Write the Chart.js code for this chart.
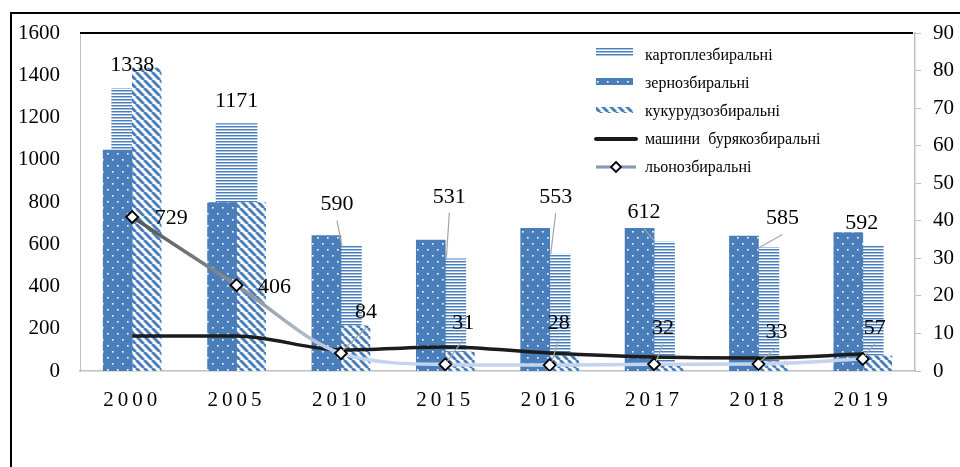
<!DOCTYPE html>
<html>
<head>
<meta charset="utf-8">
<script src="https://cdn.jsdelivr.net/npm/chart.js@4.4.1/dist/chart.umd.min.js"></script>
<style>
  html, body { margin: 0; padding: 0; background: #fff; }
  #wrap { position: relative; width: 960px; height: 467px; }
  #plot-top { position: absolute; left: 80px; top: 32px; width: 833px; height: 2px; background: #000; }
</style>
</head>
<body>
<div id="wrap"><canvas id="chart" width="960" height="467"></canvas><div id="plot-top"></div></div>
<script>
(function () {
  'use strict';

  // data
  const years = ['2000', '2005', '2010', '2015', '2016', '2017', '2018', '2019'];
  const potato = [1338, 1171, 590, 531, 553, 612, 585, 592];
  const grain = [1046, 797, 641, 620, 675, 675, 639, 655];
  const corn = [1434, 797, 214, 90, 71, 28, 43, 71];
  const beet = [166, 166, 100, 114, 85, 66, 62, 80];
  const flax = [729, 406, 84, 31, 28, 32, 33, 57];
  const leftMax = 1600;
  const leftStep = 200;
  const rightMax = 90;
  const rightStep = 10;

  const names = ['картоплезбиральні', 'зернозбиральні', 'кукурудзозбиральні', 'машини  бурякозбиральні', 'льонозбиральні'];

  // label placement (offsets from the mark, px)
  const potatoLabelOffsets = [[0, -23], [0, -22], [-4, -42], [4, -62], [6, -57], [-10, -29], [24, -29], [-1, -23]];
  const potatoLeaders = [false, false, true, true, true, true, true, false];
  const flaxLabelOffsets = [[39, 1], [38, 2], [25, -41], [18, -41], [9, -42], [9, -36], [18, -32], [12, -31]];
  const flaxLeaders = [false, false, true, true, true, true, true, true];

  const SERIF = '"Liberation Serif", serif';
  const BLUE = '#4a7ebb';
  const PLOT_W = 835;      // 960 - 80 (left axis) - 45 (right axis)
  const BAR_W = 29;        // grain / corn bar width
  const BACK_W = 41;       // potato bar width (drawn behind)
  const shift = (BAR_W / 2) / (PLOT_W / years.length); // half bar, in category units

  function makePattern(w, h, draw) {
    const c = document.createElement('canvas');
    c.width = w;
    c.height = h;
    const g = c.getContext('2d');
    draw(g, w, h);
    return g.createPattern(c, 'repeat');
  }

  const dotted = makePattern(10, 12, function (g, w, h) {
    g.fillStyle = BLUE;
    g.fillRect(0, 0, w, h);
    g.fillStyle = '#ffffff';
    g.fillRect(2, 3, 1.6, 1.6);
    g.fillRect(7, 9, 1.6, 1.6);
  });

  const hlines = makePattern(4, 3, function (g, w) {
    g.fillStyle = '#ffffff';
    g.fillRect(0, 0, w, 3);
    g.fillStyle = BLUE;
    g.fillRect(0, 0, w, 1);
    g.fillStyle = '#a9c1e3';
    g.fillRect(0, 1, w, 1);
  });

  const diag = makePattern(8, 8, function (g) {
    g.fillStyle = '#ffffff';
    g.fillRect(0, 0, 8, 8);
    g.strokeStyle = BLUE;
    g.lineWidth = 3;
    [-8, 0, 8].forEach(function (x) {
      g.beginPath();
      g.moveTo(x, 0);
      g.lineTo(x + 8, 8);
      g.stroke();
    });
  });

  function asPoints(arr) {
    return arr.map(function (v, i) { return { x: i, y: v }; });
  }

  function flaxGradient(ctx) {
    const chart = ctx.chart;
    if (!chart.chartArea) return '#808080';
    const xs = chart.scales.x;
    const x0 = xs.getPixelForValue(0);
    const x2 = xs.getPixelForValue(2);
    const g = chart.ctx.createLinearGradient(x0, 0, x2, 0);
    g.addColorStop(0, '#555555');
    g.addColorStop(0.5, '#8a8e95');
    g.addColorStop(1, '#c3d4ec');
    return g;
  }

  const framePlugin = {
    id: 'frame',
    beforeDraw: function (chart) {
      const ctx = chart.ctx;
      ctx.save();
      ctx.fillStyle = '#ffffff';
      ctx.fillRect(0, 0, chart.width, chart.height);
      ctx.restore();
    },
    afterDraw: function (chart) {
      const ctx = chart.ctx;
      const a = chart.chartArea;
      ctx.save();
      ctx.fillStyle = '#000000';
      ctx.fillRect(10, 12, 2, chart.height - 12);
      ctx.fillRect(10, 12, chart.width - 10, 2);

      // keep the html top line on the plot edge
      const topLine = document.getElementById('plot-top');
      topLine.style.left = a.left + 'px';
      topLine.style.top = (a.top - 1) + 'px';
      topLine.style.width = (a.right - a.left - 2) + 'px';

      // x labels with letter spacing
      const xs = chart.scales.x;
      ctx.font = '21px ' + SERIF;
      ctx.textAlign = 'center';
      ctx.textBaseline = 'middle';
      ctx.letterSpacing = '4px';
      years.forEach(function (y, i) {
        ctx.fillText(y, xs.getPixelForValue(i), a.bottom + 29);
      });
      ctx.restore();
    },
  };

  function drawLeader(ctx, x1, y1, x2, y2) {
    ctx.beginPath();
    ctx.moveTo(x1, y1);
    ctx.lineTo(x2, y2);
    ctx.stroke();
  }

  const labelPlugin = {
    id: 'valueLabels',
    afterDatasetsDraw: function (chart) {
      const ctx = chart.ctx;
      ctx.save();
      ctx.font = '22px ' + SERIF;
      ctx.fillStyle = '#000';
      ctx.textAlign = 'center';
      ctx.textBaseline = 'middle';
      ctx.strokeStyle = '#a6a6a6';
      ctx.lineWidth = 1.2;

      const pm = chart.getDatasetMeta(0).data;
      pm.forEach(function (el, i) {
        const lx = el.x + potatoLabelOffsets[i][0];
        const ly = el.y + potatoLabelOffsets[i][1];
        if (potatoLeaders[i]) drawLeader(ctx, lx, ly + 16, el.x + 1, el.y);
        ctx.fillText(String(potato[i]), lx, ly);
      });

      const fm = chart.getDatasetMeta(4).data;
      fm.forEach(function (el, i) {
        const lx = el.x + flaxLabelOffsets[i][0];
        const ly = el.y + flaxLabelOffsets[i][1];
        if (flaxLeaders[i]) drawLeader(ctx, lx, ly + 16, el.x + 2, el.y - 3);
        ctx.fillText(String(flax[i]), lx, ly);
      });

      // legend
      const lx0 = 596;
      const lw = 37;
      const tx = 645;
      ctx.font = '16px ' + SERIF;
      ctx.textAlign = 'left';
      names.forEach(function (name, i) {
        const ty = 56 + i * 28;
        if (i === 0) {
          ctx.fillStyle = '#ffffff';
          ctx.fillRect(lx0, ty - 8, lw, 9);
          ctx.fillStyle = BLUE;
          for (let k = 0; k < 3; k++) ctx.fillRect(lx0, ty - 8 + k * 3, lw, 1.2);
          ctx.fillStyle = '#a9c1e3';
          for (let k = 0; k < 3; k++) ctx.fillRect(lx0, ty - 7 + k * 3, lw, 1);
        } else if (i === 1) {
          ctx.fillStyle = dotted;
          ctx.fillRect(lx0, ty - 6, lw, 7);
        } else if (i === 2) {
          ctx.fillStyle = diag;
          ctx.fillRect(lx0, ty - 5, lw, 6);
        } else if (i === 3) {
          ctx.strokeStyle = '#1a1a1a';
          ctx.lineWidth = 4;
          ctx.lineCap = 'round';
          drawLeader(ctx, lx0, ty - 1, lx0 + 40, ty - 1);
        } else {
          ctx.lineCap = 'butt';
          ctx.strokeStyle = '#9fb6d8';
          ctx.lineWidth = 3.5;
          drawLeader(ctx, lx0, ty - 1, lx0 + 40, ty - 1);
          ctx.strokeStyle = '#6d7f99';
          ctx.lineWidth = 1;
          drawLeader(ctx, lx0, ty - 1, lx0 + 40, ty - 1);
          const cx = lx0 + 20;
          const cy = ty - 1;
          ctx.beginPath();
          ctx.moveTo(cx, cy - 5);
          ctx.lineTo(cx + 5, cy);
          ctx.lineTo(cx, cy + 5);
          ctx.lineTo(cx - 5, cy);
          ctx.closePath();
          ctx.fillStyle = '#fff';
          ctx.fill();
          ctx.strokeStyle = '#000';
          ctx.lineWidth = 1.8;
          ctx.stroke();
        }
        ctx.fillStyle = '#000';
        ctx.fillText(name, tx, ty);
      });
      ctx.restore();
    },
  };

  // invisible linear axis, laid out like the category axis, shifted by a fraction of a category
  function shiftedAxis(sh) {
    return {
      type: 'linear',
      position: 'bottom',
      display: true,
      offset: false,
      min: -0.5 + sh,
      max: years.length - 0.5 + sh,
      grid: { display: false, drawTicks: false, offset: false },
      border: { display: false },
      ticks: { display: false, stepSize: 1 },
      afterFit: function (s) { s.height = 0; },
    };
  }

  function build() {
    const ctx = document.getElementById('chart').getContext('2d');
    new Chart(ctx, {
      data: {
        labels: years,
        datasets: [
          {
            type: 'bar',
            label: names[0],
            data: potato,
            xAxisID: 'x',
            yAxisID: 'y',
            backgroundColor: hlines,
            borderWidth: 0,
            grouped: false,
            categoryPercentage: 1,
            barPercentage: 1,
            maxBarThickness: BACK_W,
            order: 4,
          },
          {
            type: 'bar',
            label: names[1],
            data: asPoints(grain),
            xAxisID: 'xg',
            yAxisID: 'y',
            backgroundColor: dotted,
            borderWidth: 0,
            grouped: false,
            categoryPercentage: 1,
            barPercentage: 1,
            maxBarThickness: BAR_W,
            order: 2,
          },
          {
            type: 'bar',
            label: names[2],
            data: asPoints(corn),
            xAxisID: 'xc',
            yAxisID: 'y',
            backgroundColor: diag,
            borderWidth: 0,
            grouped: false,
            categoryPercentage: 1,
            barPercentage: 1,
            maxBarThickness: BAR_W,
            order: 2,
          },
          {
            type: 'line',
            label: names[3],
            data: beet,
            xAxisID: 'x',
            yAxisID: 'y',
            borderColor: '#1c1c1c',
            borderWidth: 3.5,
            cubicInterpolationMode: 'monotone',
            pointRadius: 0,
            fill: false,
            order: 1,
          },
          {
            type: 'line',
            label: names[4],
            data: flax,
            xAxisID: 'x',
            yAxisID: 'y',
            borderColor: flaxGradient,
            borderWidth: 3.5,
            cubicInterpolationMode: 'monotone',
            pointStyle: 'rectRot',
            pointRadius: 6,
            pointBorderWidth: 1.8,
            pointBorderColor: '#000000',
            pointBackgroundColor: '#ffffff',
            fill: false,
            order: 0,
          },
        ],
      },
      options: {
        responsive: false,
        animation: false,
        events: [],
        layout: { padding: { top: 33, left: 0, right: 0, bottom: 0 } },
        plugins: {
          legend: { display: false },
          tooltip: { enabled: false },
          title: { display: false },
        },
        scales: {
          x: {
            type: 'category',
            position: 'bottom',
            offset: true,
            grid: { display: false },
            border: { display: true, color: '#bfbfbf', width: 1.5 },
            ticks: { display: false },
            afterFit: function (s) { s.height = 96; },
          },
          xg: shiftedAxis(shift),
          xc: shiftedAxis(-shift),
          y: {
            position: 'left',
            min: 0,
            max: leftMax,
            grid: { display: false, drawTicks: false },
            border: { display: true, color: '#bfbfbf', width: 1 },
            ticks: {
              stepSize: leftStep,
              padding: 20,
              color: '#000',
              font: { family: SERIF, size: 21 },
              callback: function (v) { return String(v); },
            },
            afterFit: function (s) { s.width = 80; },
          },
          y2: {
            position: 'right',
            min: 0,
            max: rightMax,
            grid: { drawOnChartArea: false, drawTicks: true, tickLength: 6, color: '#bfbfbf' },
            border: { display: true, color: '#bfbfbf', width: 1.5 },
            ticks: {
              stepSize: rightStep,
              padding: 12,
              color: '#000',
              font: { family: SERIF, size: 21 },
              callback: function (v) { return String(v); },
            },
            afterFit: function (s) { s.width = 45; },
          },
        },
      },
      plugins: [framePlugin, labelPlugin],
    });
  }

  if (document.fonts && document.fonts.load) {
    Promise.all([
      document.fonts.load('21px "Liberation Serif"'),
      document.fonts.load('16px "Liberation Serif"'),
    ]).then(build, build);
  } else {
    build();
  }
})();
</script>
</body>
</html>
